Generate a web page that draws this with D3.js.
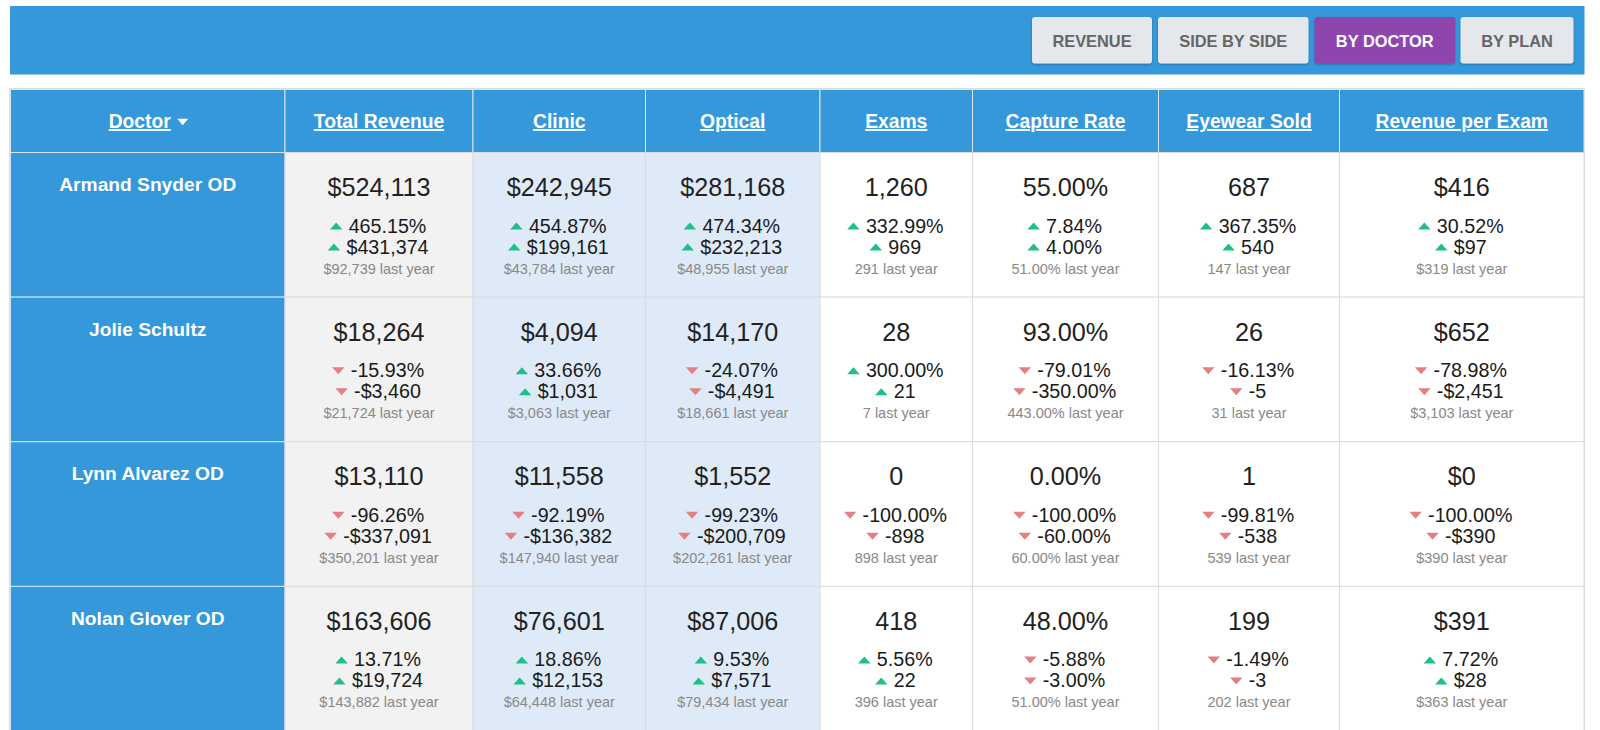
<!DOCTYPE html>
<html><head><meta charset="utf-8">
<script src="https://cdn.jsdelivr.net/npm/d3@7/dist/d3.min.js"></script>
<style>html,body{margin:0;padding:0;background:#fff;overflow:hidden}svg{display:block}text{font-family:"Liberation Sans",Arial,sans-serif}</style>
</head><body><svg id="c" width="1600" height="730"></svg>
<script>
const buttons=["REVENUE","SIDE BY SIDE","BY DOCTOR","BY PLAN"];
const activeButton="BY DOCTOR";
const doctors=["Armand Snyder OD","Jolie Schultz","Lynn Alvarez OD","Nolan Glover OD"];
const columns=["Doctor","Total Revenue","Clinic","Optical","Exams","Capture Rate","Eyewear Sold","Revenue per Exam"];
const metrics=columns.slice(1);
const current={
"Total Revenue":["$524,113","$18,264","$13,110","$163,606"],
"Clinic":["$242,945","$4,094","$11,558","$76,601"],
"Optical":["$281,168","$14,170","$1,552","$87,006"],
"Exams":["1,260","28","0","418"],
"Capture Rate":["55.00%","93.00%","0.00%","48.00%"],
"Eyewear Sold":["687","26","1","199"],
"Revenue per Exam":["$416","$652","$0","$391"]};
const changePct={
"Total Revenue":["465.15%","-15.93%","-96.26%","13.71%"],
"Clinic":["454.87%","33.66%","-92.19%","18.86%"],
"Optical":["474.34%","-24.07%","-99.23%","9.53%"],
"Exams":["332.99%","300.00%","-100.00%","5.56%"],
"Capture Rate":["7.84%","-79.01%","-100.00%","-5.88%"],
"Eyewear Sold":["367.35%","-16.13%","-99.81%","-1.49%"],
"Revenue per Exam":["30.52%","-78.98%","-100.00%","7.72%"]};
const changeAbs={
"Total Revenue":["$431,374","-$3,460","-$337,091","$19,724"],
"Clinic":["$199,161","$1,031","-$136,382","$12,153"],
"Optical":["$232,213","-$4,491","-$200,709","$7,571"],
"Exams":["969","21","-898","22"],
"Capture Rate":["4.00%","-350.00%","-60.00%","-3.00%"],
"Eyewear Sold":["540","-5","-538","-3"],
"Revenue per Exam":["$97","-$2,451","-$390","$28"]};
const lastYear={
"Total Revenue":["$92,739","$21,724","$350,201","$143,882"],
"Clinic":["$43,784","$3,063","$147,940","$64,448"],
"Optical":["$48,955","$18,661","$202,261","$79,434"],
"Exams":["291","7","898","396"],
"Capture Rate":["51.00%","443.00%","60.00%","51.00%"],
"Eyewear Sold":["147","31","539","202"],
"Revenue per Exam":["$319","$3,103","$390","$363"]};

const BLUE="#3498db",LINE="#dcdcdc",UP="#1fc088",DOWN="#e58080";
const edges=[10.5,285,473,645.5,820,972.5,1158.5,1339.5,1584];
const xEdge=d3.scaleOrdinal(columns,edges);
const colW=c=>edges[columns.indexOf(c)+1]-edges[columns.indexOf(c)];
const cx=c=>xEdge(c)+colW(c)/2;
const y=d3.scaleBand(doctors,[152.5,731]);
const fill={"Total Revenue":"#f2f2f2","Clinic":"#deeaf8","Optical":"#deeaf8"};
const svg=d3.select("#c");

// top bar
svg.append("rect").attr("x",10).attr("y",6).attr("width",1574.5).attr("height",68.5).attr("fill",BLUE);
const btnX=d3.scaleOrdinal(buttons,[1032,1158,1314.5,1460.5]);
const btnW=d3.scaleOrdinal(buttons,[120,150.5,140.5,113]);
const defs=svg.append("defs");
const f=defs.append("filter").attr("id","sh").attr("x","-10%").attr("y","-10%").attr("width","120%").attr("height","130%");
f.append("feDropShadow").attr("dx",0).attr("dy",1).attr("stdDeviation",1).attr("flood-color","#000").attr("flood-opacity",.3);
const b=svg.selectAll("g.btn").data(buttons).join("g").attr("class","btn");
b.append("rect").attr("x",d=>btnX(d)).attr("y",17).attr("width",d=>btnW(d)).attr("height",46.5).attr("rx",3)
 .attr("fill",d=>d===activeButton?"#8e44ad":"#e4e7ec").attr("filter","url(#sh)");
b.append("text").attr("x",d=>btnX(d)+btnW(d)/2).attr("y",46.5).attr("text-anchor","middle").attr("font-size",16.4).attr("font-weight",700)
 .attr("fill",d=>d===activeButton?"#fff":"#666").text(d=>d);

// table frame
svg.append("rect").attr("x",9.5).attr("y",88.5).attr("width",1575).attr("height",650).attr("fill","none").attr("stroke",LINE);
svg.selectAll("rect.head").data(columns).join("rect").attr("class","head")
 .attr("x",d=>xEdge(d)).attr("y",89.5).attr("width",colW).attr("height",63).attr("fill",BLUE).attr("stroke","#dde6ee");
svg.selectAll("text.head").data(columns).join("text").attr("class","head")
 .attr("x",d=>cx(d)-(d==="Doctor"?8:0)).attr("y",128).attr("text-anchor","middle").attr("font-size",19.3).attr("font-weight",700)
 .attr("fill","#fff").attr("text-decoration","underline").text(d=>d);
svg.append("path").attr("d","M-5.5,-3.25L5.5,-3.25L0,3.25Z").attr("fill","#fff")
 .attr("transform",`translate(${cx("Doctor")+35},122)`);

const rows=svg.selectAll("g.row").data(doctors).join("g").attr("class","row").attr("transform",d=>`translate(0,${y(d)})`);
rows.append("rect").attr("x",xEdge("Doctor")).attr("width",colW("Doctor")).attr("height",y.bandwidth()).attr("fill",BLUE).attr("stroke","#cfe6f7");
rows.append("text").attr("x",cx("Doctor")).attr("y",38.5).attr("text-anchor","middle").attr("font-size",19.2).attr("font-weight",700).attr("fill","#fff").text(d=>d);

rows.each(function(doc,ri){
  const g=d3.select(this);
  const cells=g.selectAll("g.cell").data(metrics).join("g").attr("class","cell");
  cells.append("rect").attr("x",m=>xEdge(m)).attr("width",colW).attr("height",y.bandwidth())
    .attr("fill",m=>fill[m]||"#fff").attr("stroke",LINE);
  cells.append("text").attr("x",cx).attr("y",43.5).attr("text-anchor","middle").attr("font-size",25.2).attr("fill","#222")
    .text(m=>current[m][ri]);
  const delta=(src,yy)=>{
    cells.append("text").attr("x",m=>cx(m)+8.5).attr("y",yy).attr("text-anchor","middle").attr("font-size",19.7)
      .attr("fill","#1a1a1a").text(m=>src[m][ri])
      .each(function(m){
        const w=this.getComputedTextLength();
        const neg=src[m][ri].startsWith("-");
        d3.select(this.parentNode).append("path")
          .attr("d",neg?"M-6.25,-3.5L6.25,-3.5L0,3.5Z":"M-6.25,3.5L6.25,3.5L0,-3.5Z")
          .attr("transform",`translate(${cx(m)+8.5-w/2-12.5},${yy-6.5})`)
          .attr("fill",neg?DOWN:UP);
      });
  };
  delta(changePct,80);
  delta(changeAbs,101);
  cells.append("text").attr("x",cx).attr("y",121).attr("text-anchor","middle").attr("font-size",14.5).attr("fill","#888")
    .text(m=>lastYear[m][ri]+" last year");
});
</script></body></html>
